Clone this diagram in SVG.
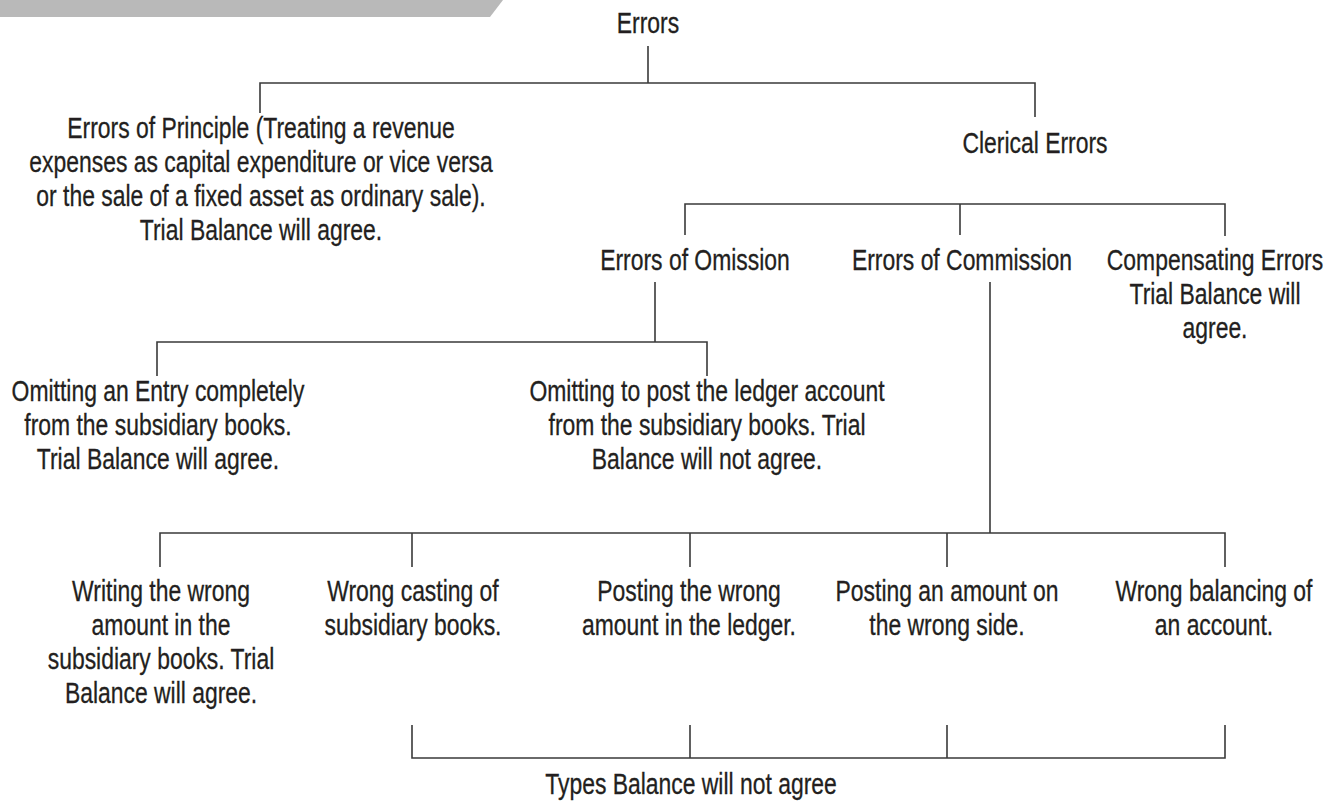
<svg xmlns="http://www.w3.org/2000/svg" width="1338" height="801" viewBox="0 0 1338 801">
<style>
.t{font-family:"Liberation Sans",Arial,sans-serif;font-size:29px;text-anchor:middle;fill:#231f20;stroke:#231f20;stroke-width:0.3}
.c{stroke:#3a3a3a;stroke-width:1.6;fill:none}
</style>
<rect width="1338" height="801" fill="#fff"/>
<polygon points="0,0 503,0 490,17 0,17" fill="#b9b9b9"/>
<g id="connectors" class="c">
<path d="M648,46V83M260,113V83H1035V117"/>
<path d="M685,235V204H1225V236M960,204V235"/>
<path d="M655,282V342M157,376V342H707V376"/>
<path d="M990,282V533M160,567V533H1225V567M412,533V567M690,533V567M947,533V567"/>
<path d="M412,725V758H1225V725M690,725V758M947,725V758"/>
</g>
<g id="n-errors"><text class="t" transform="translate(648 0) scale(0.79 1)"><tspan x="0" y="33">Errors</tspan></text></g>
<g id="n-principle"><text class="t" transform="translate(261 0) scale(0.79 1)"><tspan x="0" y="138">Errors of Principle (Treating a revenue</tspan><tspan x="0" y="172">expenses as capital expenditure or vice versa</tspan><tspan x="0" y="206">or the sale of a fixed asset as ordinary sale).</tspan><tspan x="0" y="240">Trial Balance will agree.</tspan></text></g>
<g id="n-clerical"><text class="t" transform="translate(1035 0) scale(0.79 1)"><tspan x="0" y="153">Clerical Errors</tspan></text></g>
<g id="n-omission"><text class="t" transform="translate(695 0) scale(0.79 1)"><tspan x="0" y="270">Errors of Omission</tspan></text></g>
<g id="n-commission"><text class="t" transform="translate(962 0) scale(0.79 1)"><tspan x="0" y="270">Errors of Commission</tspan></text></g>
<g id="n-compensating"><text class="t" transform="translate(1215 0) scale(0.79 1)"><tspan x="0" y="270">Compensating Errors</tspan><tspan x="0" y="304">Trial Balance will</tspan><tspan x="0" y="338">agree.</tspan></text></g>
<g id="n-omit-entry"><text class="t" transform="translate(158 0) scale(0.79 1)"><tspan x="0" y="401">Omitting an Entry completely</tspan><tspan x="0" y="435">from the subsidiary books.</tspan><tspan x="0" y="469">Trial Balance will agree.</tspan></text></g>
<g id="n-omit-post"><text class="t" transform="translate(707 0) scale(0.79 1)"><tspan x="0" y="401">Omitting to post the ledger account</tspan><tspan x="0" y="435">from the subsidiary books. Trial</tspan><tspan x="0" y="469">Balance will not agree.</tspan></text></g>
<g id="n-writing"><text class="t" transform="translate(161 0) scale(0.79 1)"><tspan x="0" y="601">Writing the wrong</tspan><tspan x="0" y="635">amount in the</tspan><tspan x="0" y="669">subsidiary books. Trial</tspan><tspan x="0" y="703">Balance will agree.</tspan></text></g>
<g id="n-casting"><text class="t" transform="translate(413 0) scale(0.79 1)"><tspan x="0" y="601">Wrong casting of</tspan><tspan x="0" y="635">subsidiary books.</tspan></text></g>
<g id="n-posting-wrong"><text class="t" transform="translate(689 0) scale(0.79 1)"><tspan x="0" y="601">Posting the wrong</tspan><tspan x="0" y="635">amount in the ledger.</tspan></text></g>
<g id="n-posting-side"><text class="t" transform="translate(947 0) scale(0.79 1)"><tspan x="0" y="601">Posting an amount on</tspan><tspan x="0" y="635">the wrong side.</tspan></text></g>
<g id="n-balancing"><text class="t" transform="translate(1214 0) scale(0.79 1)"><tspan x="0" y="601">Wrong balancing of</tspan><tspan x="0" y="635">an account.</tspan></text></g>
<g id="n-types"><text class="t" transform="translate(691 0) scale(0.79 1)"><tspan x="0" y="794">Types Balance will not agree</tspan></text></g>
</svg>
